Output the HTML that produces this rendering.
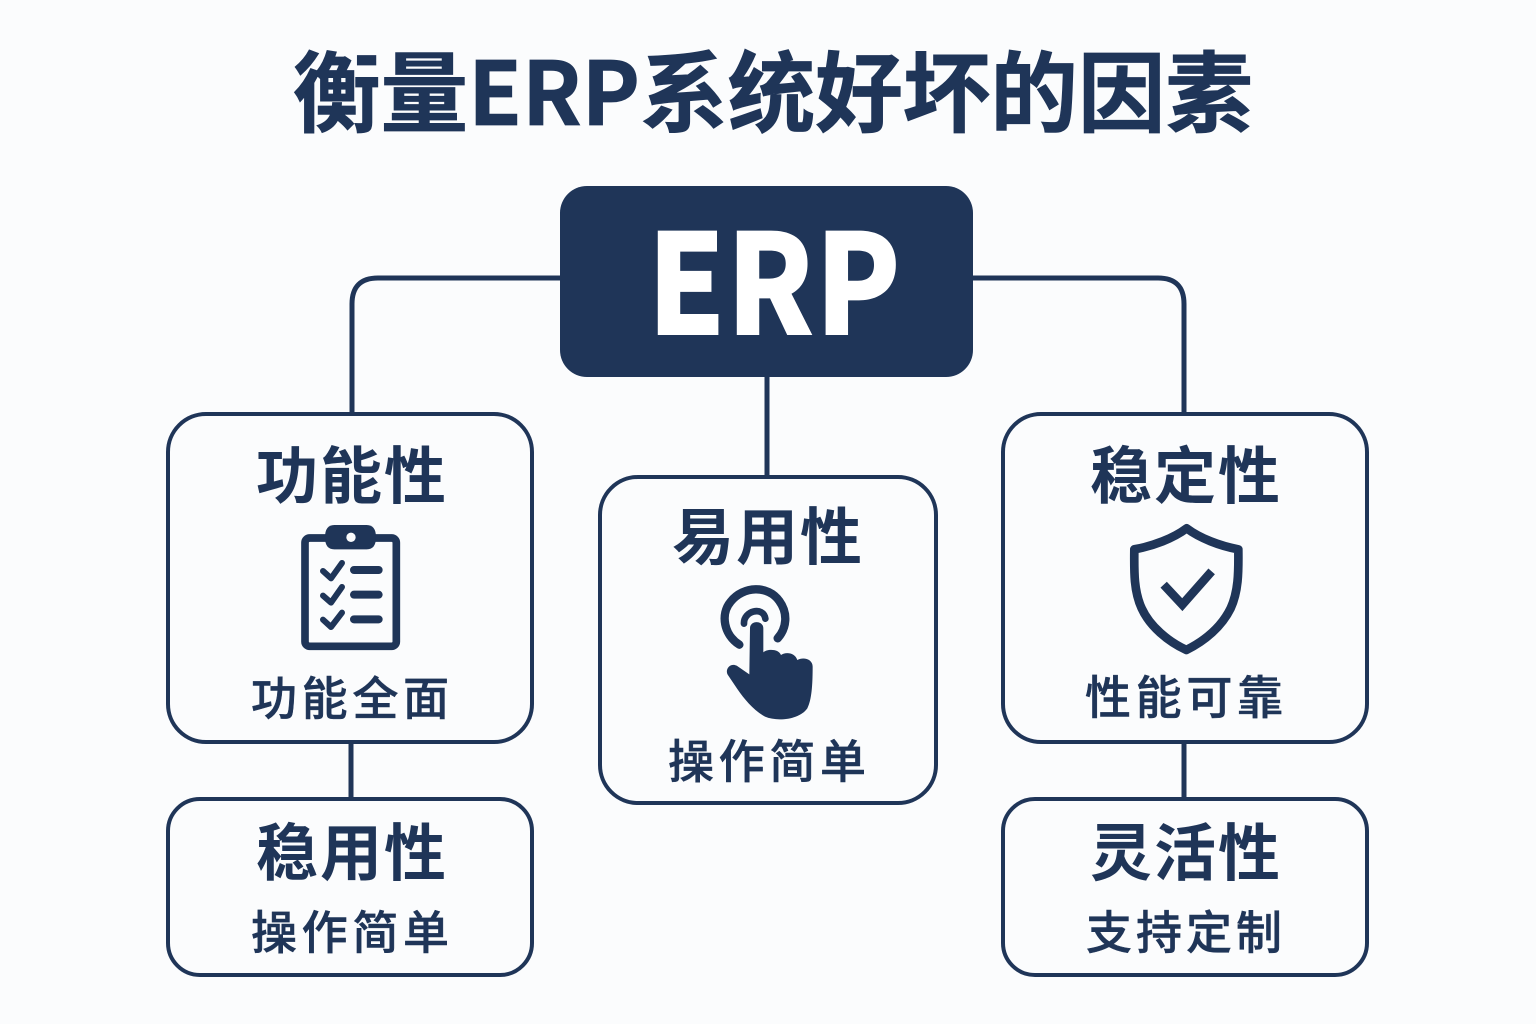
<!DOCTYPE html>
<html lang="zh"><head><meta charset="utf-8"><title>衡量ERP系统好坏的因素</title>
<style>html,body{margin:0;padding:0;background:#fbfcfd}svg{display:block}
text{font-family:"Liberation Sans","Noto Sans CJK SC",sans-serif;fill:#1f3558;text-anchor:middle}
.h{font-family:"Noto Sans CJK SC","Liberation Sans",sans-serif;font-weight:700;font-size:62px}
.s{font-family:"Noto Sans CJK SC","Liberation Sans",sans-serif;font-weight:500;font-size:46px;stroke:#1f3558;stroke-width:.5px}
.b{fill:#fbfcfd;stroke:#1f3558;stroke-width:4}
.l{fill:none;stroke:#1f3558;stroke-width:5}
</style></head><body>
<svg xmlns="http://www.w3.org/2000/svg" width="1536" height="1024" viewBox="0 0 1536 1024">
<rect width="1536" height="1024" fill="#fbfcfd"/>
<text x="773" y="125" style="font-family:'Noto Sans CJK SC','Liberation Sans',sans-serif;font-weight:700;font-size:88px;stroke:#1f3558;stroke-width:.8px" textLength="960" lengthAdjust="spacingAndGlyphs">衡量ERP系统好坏的因素</text>
<path class="l" d="M562 278H378Q352 278 352 304V414M972 278H1158Q1184 278 1184 304V414M767 376V477M351 741V799M1184 741V799"/>
<rect x="560" y="186" width="413" height="191" rx="27" fill="#1f3558"/>
<text x="774" y="335" style="font-family:'Noto Sans CJK SC','Liberation Sans',sans-serif;font-weight:900;font-size:140px;fill:#fff" textLength="254" lengthAdjust="spacingAndGlyphs">ERP</text>
<rect class="b" x="168" y="414" width="364" height="328" rx="38"/>
<rect class="b" x="600" y="477" width="336" height="326" rx="38"/>
<rect class="b" x="1003" y="414" width="364" height="328" rx="38"/>
<rect class="b" x="168" y="799" width="364" height="176" rx="32"/>
<rect class="b" x="1003" y="799" width="364" height="176" rx="32"/>
<text class="h" x="351" y="498" textLength="190">功能性</text>
<text class="h" x="767" y="559" textLength="190">易用性</text>
<text class="h" x="1185" y="498" textLength="190">稳定性</text>
<text class="h" x="351" y="875" textLength="190">稳用性</text>
<text class="h" x="1185" y="875" textLength="190">灵活性</text>
<text class="s" x="350" y="715" textLength="198">功能全面</text>
<text class="s" x="767" y="778" textLength="198">操作简单</text>
<text class="s" x="1184" y="714" textLength="198">性能可靠</text>
<text class="s" x="350" y="949" textLength="198">操作简单</text>
<text class="s" x="1184" y="949" textLength="196">支持定制</text>
<g transform="translate(280 510) scale(.3333)" fill="none" stroke="#1f3558">
<rect x="75" y="84" width="274" height="325" rx="14" stroke-width="23" fill="#fbfcfd"/>
<path d="M163 45H260Q288 45 288 82Q288 118 260 118H163Q135 118 135 82Q135 45 163 45Z" fill="#1f3558" stroke="none"/>
<circle cx="213" cy="82" r="14" fill="#fbfcfd" stroke="none"/>
<path d="M129 183L153 205L186 159M129 257L153 278L186 231M129 329L153 351L186 308" stroke-width="18" stroke-linejoin="round" stroke-linecap="round"/>
<path d="M222 180H296M222 254H296M222 328H296" stroke-width="24" stroke-linecap="round"/>
</g>
<g transform="translate(700 575) scale(.3333)" fill="#1f3558">
<path d="M118 209C72 180 60 118 92 80C130 32 205 30 238 78C265 115 260 160 233 190" fill="none" stroke="#1f3558" stroke-width="25" stroke-linecap="round"/>
<path d="M132 146C130 108 190 92 196 131" fill="none" stroke="#1f3558" stroke-width="20" stroke-linecap="round"/>
<path d="M150 160C150 135 190 135 190 160V232C200 222 235 220 243 240C256 230 285 232 292 255C310 245 338 252 338 275C338 330 335 375 322 400C300 432 235 442 195 425C160 405 135 375 112 342L85 302C72 285 90 262 110 272L148 298Z"/>
</g>
<g transform="translate(1110 510) scale(.3333)" fill="none" stroke="#1f3558">
<path d="M230 55C190 85 130 108 73 118C72 190 72 245 95 295C120 350 175 395 229 420C285 392 335 350 362 295C385 245 386 190 385 118C330 108 270 85 230 55Z" stroke-width="26" stroke-linejoin="round"/>
<path d="M161 224L217 284L305 184" stroke-width="26" stroke-linejoin="miter"/>
</g>
</svg>
</body></html>
